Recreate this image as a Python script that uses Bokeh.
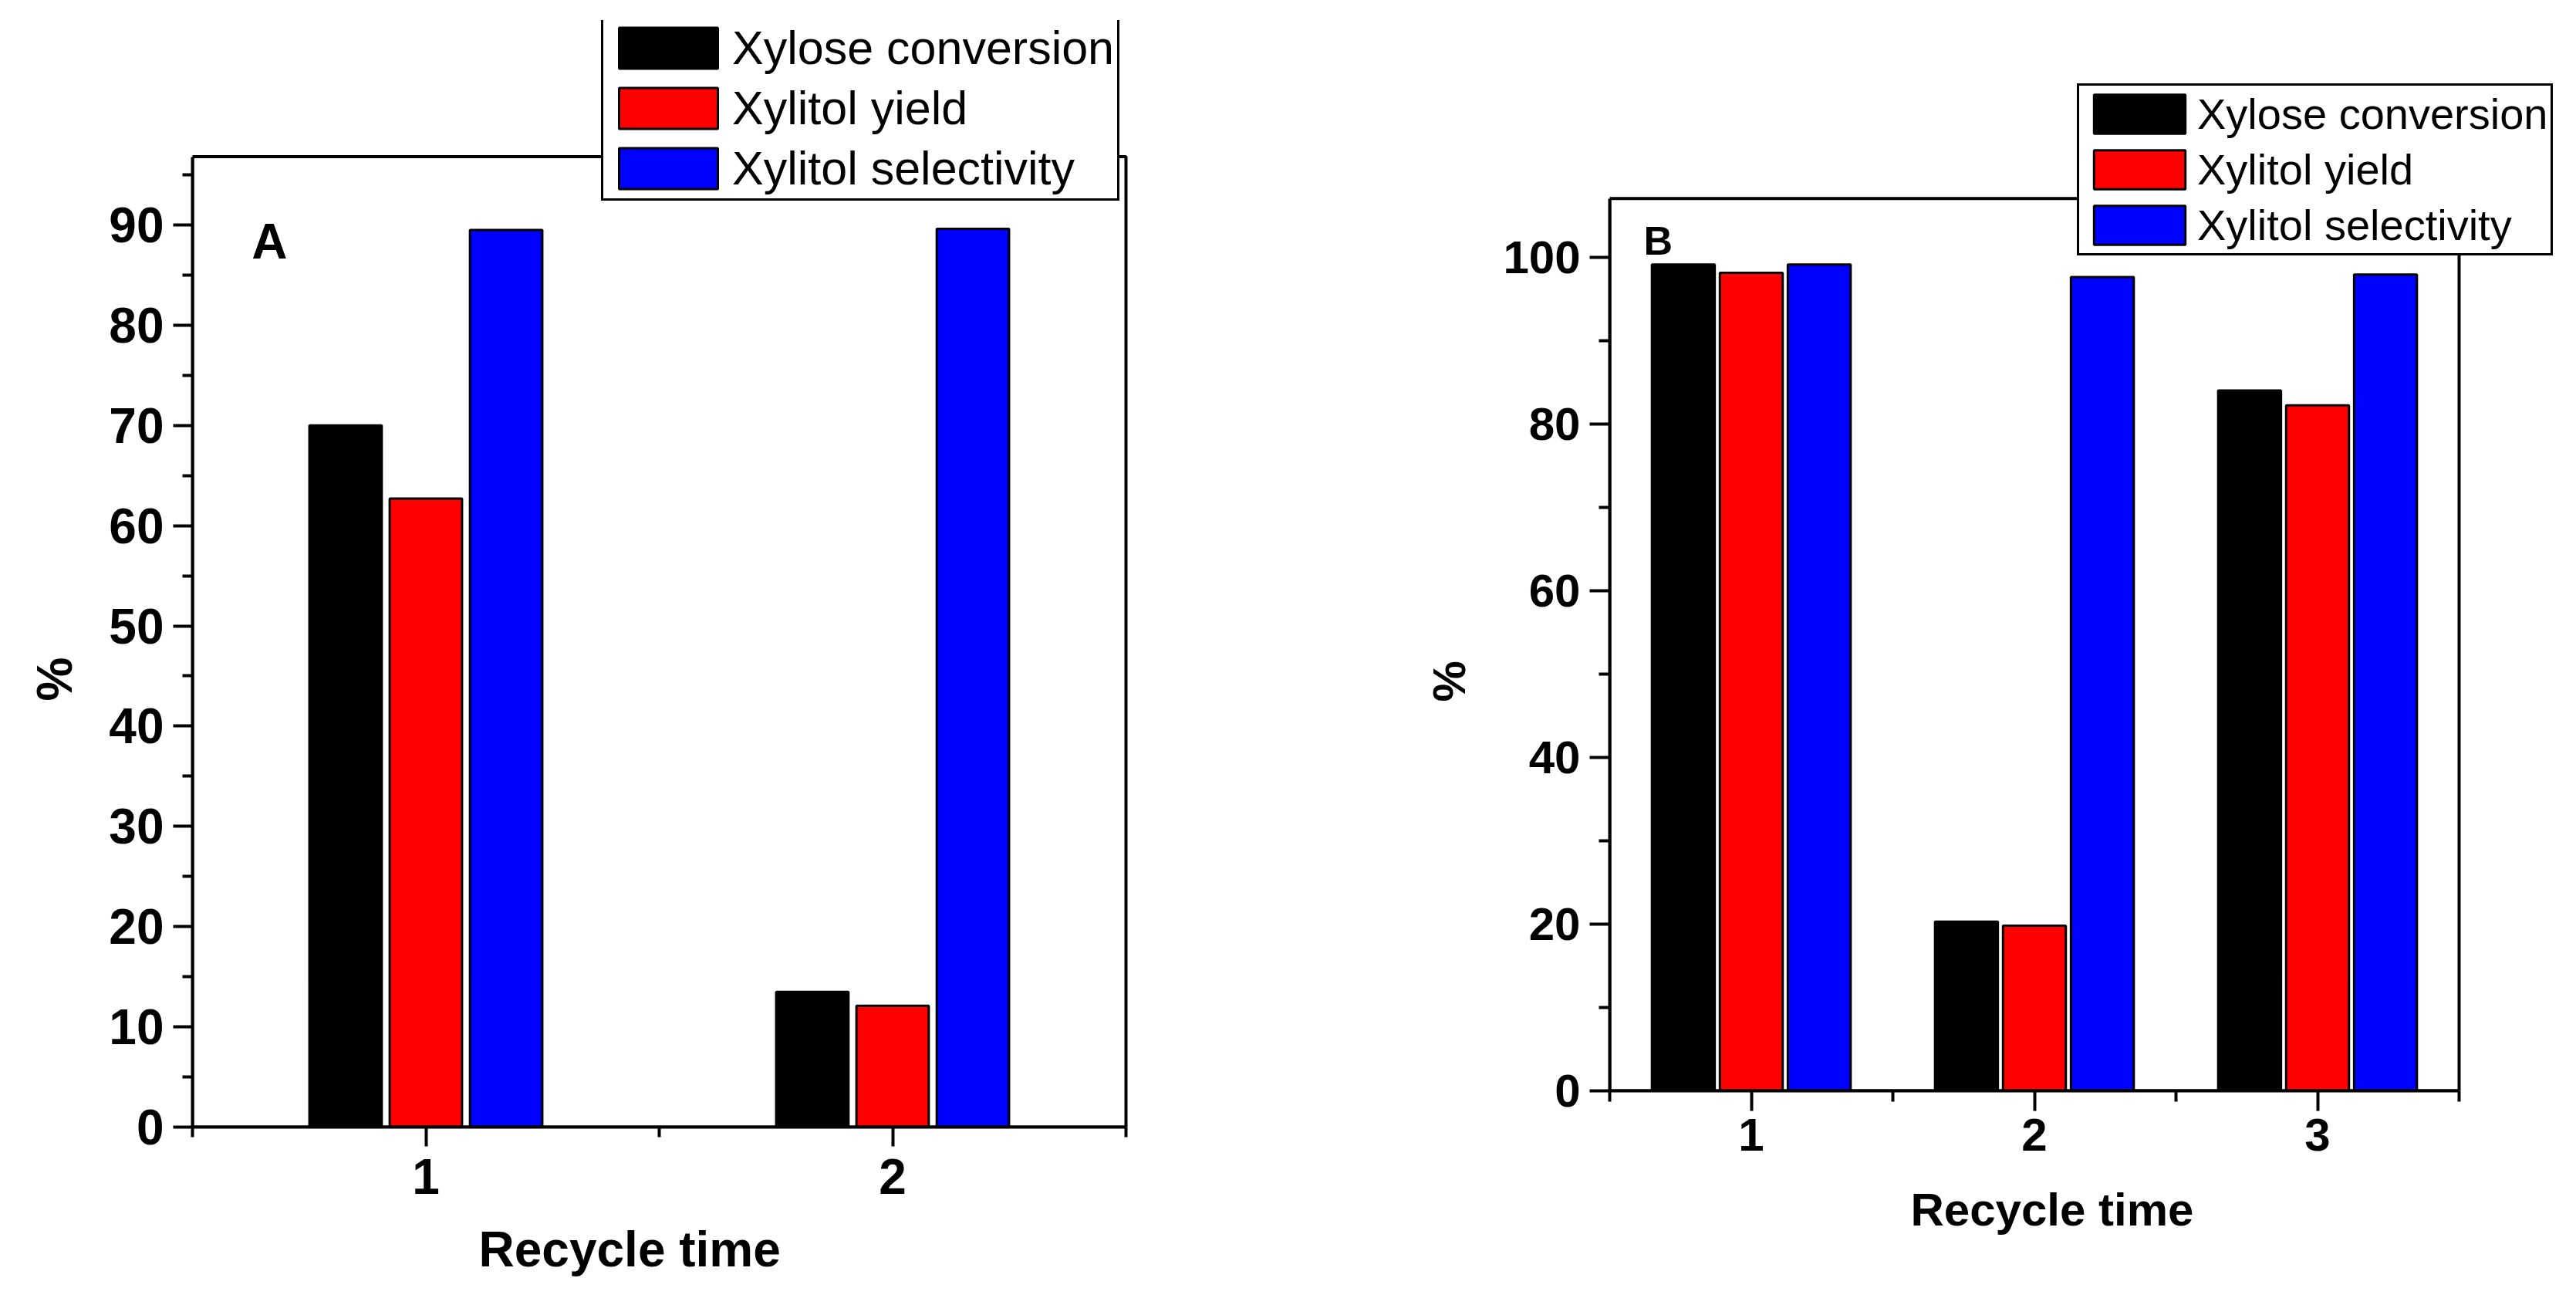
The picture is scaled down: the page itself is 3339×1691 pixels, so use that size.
from bokeh.plotting import figure
from bokeh.models import (ColumnDataSource, Range1d, FixedTicker, Legend, LegendItem,
                          Label, BoxAnnotation, Title)
from bokeh.layouts import row
from bokeh.transform import dodge
from bokeh.embed import file_html
from bokeh.resources import INLINE

# ---------------- data ----------------
series_names = ["Xylose conversion", "Xylitol yield", "Xylitol selectivity"]
series_colors = ["#000000", "#ff0000", "#0000ff"]

recycle_A = [1, 2]
conversion_A = [70.0, 13.5]
yield_A = [62.7, 12.1]
selectivity_A = [89.5, 89.6]

recycle_B = [1, 2, 3]
conversion_B = [99.1, 20.3, 84.0]
yield_B = [98.1, 19.8, 82.2]
selectivity_B = [99.1, 97.6, 97.9]

yticks_A = [0, 10, 20, 30, 40, 50, 60, 70, 80, 90]
yminor_A = [5, 15, 25, 35, 45, 55, 65, 75, 85, 95]
ymax_A = 96.8
yticks_B = [0, 20, 40, 60, 80, 100]
yminor_B = [10, 30, 50, 70, 90]
ymax_B = 107.0

x_title = "Recycle time"
y_title = "%"

FONT = "Liberation Sans"


def make_panel(recycle, values, yticks, yminor, ymax, tag, cfg):
    src = ColumnDataSource(dict(x=recycle, s0=values[0], s1=values[1], s2=values[2]))
    xmin, xmax = recycle[0] - 0.5, recycle[-1] + 0.5
    # the frame is a little larger than the drawn plot box so the legend is not clipped
    x_end = xmin + cfg["fw"] / cfg["ppx"]
    y_end = cfg["fh"] / cfg["ppy"]
    p = figure(frame_width=cfg["fw"], frame_height=cfg["fh"],
               x_range=Range1d(xmin, x_end), y_range=Range1d(0, y_end),
               output_backend="svg", toolbar_location=None,
               min_border_left=cfg["bl"], min_border_right=cfg["br"],
               min_border_top=cfg["bt"], min_border_bottom=cfg["bb"])
    p.xgrid.visible = False
    p.ygrid.visible = False
    p.outline_line_color = None
    p.background_fill_color = "white"
    p.border_fill_color = "white"

    renderers = []
    for i, key in enumerate(["s0", "s1", "s2"]):
        r = p.vbar(x=dodge("x", (i - 1) * cfg["off"], range=p.x_range), top=key,
                   width=cfg["bw"], bottom=0, source=src,
                   fill_color=series_colors[i], line_color="black", line_width=3)
        renderers.append(r)

    # plot box (top and right edges)
    p.add_layout(BoxAnnotation(left=xmin, right=xmax, bottom=0, top=ymax,
                               fill_alpha=0, line_color="black", line_width=4, line_alpha=1.0))

    minor_x = [r - 0.5 for r in recycle] + [recycle[-1] + 0.5]
    p.xaxis.ticker = FixedTicker(ticks=recycle, minor_ticks=minor_x)
    p.yaxis.ticker = FixedTicker(ticks=yticks, minor_ticks=yminor)
    p.xaxis.bounds = (xmin, xmax)
    p.yaxis.bounds = (0, ymax)

    for ax in (p.xaxis[0], p.yaxis[0]):
        ax.axis_line_width = 4
        ax.axis_line_color = "black"
        ax.major_tick_line_width = 4
        ax.minor_tick_line_width = 4
        ax.major_tick_in = 0
        ax.minor_tick_in = 0
        ax.major_tick_out = cfg["tmaj"]
        ax.minor_tick_out = cfg["tmin"]
        ax.major_label_text_font = FONT
        ax.major_label_text_font_style = "bold"
        ax.major_label_text_font_size = cfg["tick_fs"]
        ax.major_label_text_color = "black"
    p.xaxis.major_label_standoff = cfg["xstd"]
    p.yaxis.major_label_standoff = cfg["ystd"]

    # axis titles (side titles, offset along the axis like the original)
    p.add_layout(Title(text=x_title, align="left", vertical_align="bottom",
                       offset=cfg["xoff"], standoff=cfg["xs"],
                       text_font=FONT, text_font_style="bold",
                       text_font_size=cfg["lab_fs"], text_color="black"), "below")
    p.add_layout(Title(text=y_title, align="left", vertical_align="bottom",
                       offset=cfg["yoff"], standoff=cfg["ys"],
                       text_font=FONT, text_font_style="bold",
                       text_font_size=cfg["lab_fs"], text_color="black"), "left")

    p.add_layout(Label(x=xmin + cfg["tx"], y=cfg["ty"], text=tag,
                       text_font=FONT, text_font_style="bold", text_color="black",
                       text_font_size=cfg["tag_fs"], text_baseline="alphabetic"))

    legend = Legend(items=[LegendItem(label=n, renderers=[r]) for n, r in zip(series_names, renderers)],
                    location=cfg["loc"], orientation="vertical",
                    glyph_width=cfg["gw"], glyph_height=cfg["gh"], label_height=cfg["gh"],
                    label_text_font=FONT, label_text_font_size=cfg["leg_fs"],
                    label_text_color="black",
                    spacing=cfg["sp"], padding=4, margin=0, label_standoff=cfg["ls"],
                    border_line_color="black", border_line_width=3, border_line_alpha=1.0,
                    background_fill_color="white", background_fill_alpha=1.0)
    p.add_layout(legend)
    return p


cfgA = dict(fw=1229, fh=1434, ppx=605.0, ppy=12.99, bl=246, br=25, bt=26, bb=100,
            off=0.172, bw=0.155, tmaj=25, tmin=13, tick_fs="64px", lab_fs="64px",
            xstd=16, ystd=12, xs=62, ys=64, xoff=371, yoff=552,
            tx=0.127, ty=88.3, tag_fs="64px",
            loc=(530, 1200), gw=160, gh=66, leg_fs="61px", sp=8, ls=3)
cfgB = dict(fw=1242, fh=1387, ppx=367.0, ppy=10.805, bl=583, br=6, bt=26, bb=100,
            off=0.24, bw=0.222, tmaj=26, tmin=14, tick_fs="60px", lab_fs="60px",
            xstd=10, ystd=12, xs=76, ys=68, xoff=390, yoff=504,
            tx=0.12, ty=101.9, tag_fs="52px",
            loc=(606, 1082), gw=148, gh=63, leg_fs="56px", sp=7, ls=1)

pA = make_panel(recycle_A, [conversion_A, yield_A, selectivity_A], yticks_A, yminor_A, ymax_A, "A", cfgA)
pB = make_panel(recycle_B, [conversion_B, yield_B, selectivity_B], yticks_B, yminor_B, ymax_B, "B", cfgB)

layout = row(pA, pB)
open("out.html", "w").write(file_html(layout, INLINE))
